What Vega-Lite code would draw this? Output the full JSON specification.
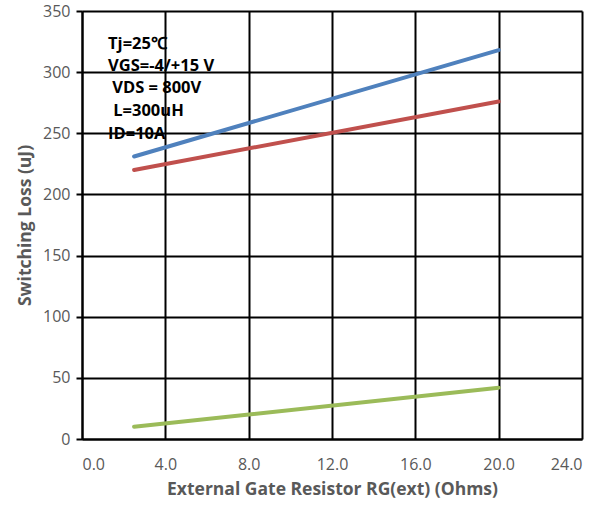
{
  "$schema": "https://vega.github.io/schema/vega-lite/v6.json",
  "width": 500,
  "height": 428,
  "padding": {"left": 16, "top": 3, "right": 5, "bottom": 5},
  "background": "white",
  "config": {
    "view": {"stroke": null},
    "font": "Open Sans"
  },
  "datasets": {
    "curves": [
      {"rg": 2.5, "loss": 231, "series": "Etotal"},
      {"rg": 20, "loss": 318, "series": "Etotal"},
      {"rg": 2.5, "loss": 220, "series": "Eon"},
      {"rg": 20, "loss": 276, "series": "Eon"},
      {"rg": 2.5, "loss": 10, "series": "Eoff"},
      {"rg": 20, "loss": 42, "series": "Eoff"}
    ],
    "notes": [
      {"rg": 1.25, "loss": 323, "label": "Tj=25℃"},
      {"rg": 1.25, "loss": 305, "label": "VGS=-4/+15 V"},
      {"rg": 1.45, "loss": 287, "label": "VDS = 800V"},
      {"rg": 1.5, "loss": 268, "label": "L=300uH"},
      {"rg": 1.25, "loss": 249.5, "label": "ID=10A"}
    ]
  },
  "layer": [
    {
      "data": {"name": "curves"},
      "mark": {"type": "line", "strokeWidth": 4, "strokeCap": "round"},
      "encoding": {
        "x": {
          "field": "rg", "type": "quantitative",
          "scale": {"domain": [0, 24], "nice": false, "zero": false},
          "axis": {
            "values": [0, 4, 8, 12, 16, 20, 24],
            "format": ".1f",
            "title": "External Gate Resistor RG(ext) (Ohms)",
            "titleFont": "Open Sans", "titleFontSize": 17.5, "titleFontWeight": "bold", "titleColor": "#595959",
            "titlePadding": 8,
            "labelFont": "Open Sans", "labelFontSize": 16, "labelColor": "#595959", "labelPadding": 17,
            "ticks": false,
            "domainColor": "black", "domainWidth": 2,
            "grid": true, "gridColor": "black", "gridWidth": 2, "gridOpacity": 1
          }
        },
        "y": {
          "field": "loss", "type": "quantitative",
          "scale": {"domain": [0, 350], "nice": false},
          "axis": {
            "values": [0, 50, 100, 150, 200, 250, 300, 350],
            "title": "Switching Loss (uJ)",
            "titleFont": "Open Sans", "titleFontSize": 17.5, "titleFontWeight": "bold", "titleColor": "#595959",
            "titlePadding": 8,
            "labelFont": "Open Sans", "labelFontSize": 16, "labelColor": "#595959", "labelPadding": 6,
            "ticks": true, "tickSize": 6, "tickColor": "black", "tickWidth": 2,
            "domainColor": "black", "domainWidth": 2,
            "grid": true, "gridColor": "black", "gridWidth": 2, "gridOpacity": 1
          }
        },
        "color": {
          "field": "series", "type": "nominal",
          "scale": {"domain": ["Etotal", "Eon", "Eoff"], "range": ["#4F81BD", "#C0504D", "#9BBB59"]},
          "legend": null
        }
      }
    },
    {
      "data": {"name": "notes"},
      "mark": {"type": "text", "align": "left", "baseline": "middle", "fontSize": 16.5, "fontWeight": "bold", "color": "black", "font": "Open Sans"},
      "encoding": {
        "x": {"field": "rg", "type": "quantitative"},
        "y": {"field": "loss", "type": "quantitative"},
        "text": {"field": "label"}
      }
    }
  ]
}
